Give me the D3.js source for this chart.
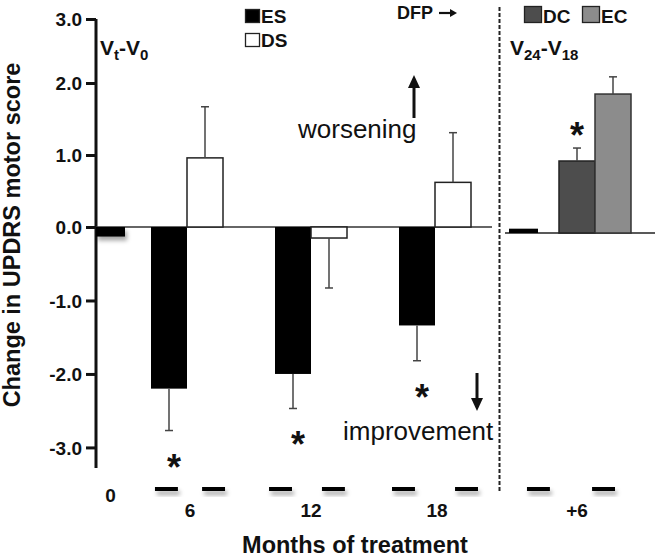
<!DOCTYPE html>
<html>
<head>
<meta charset="utf-8">
<script src="https://cdn.jsdelivr.net/npm/d3@7"></script>
<style>
  html, body { margin: 0; padding: 0; background: #fff; }
  svg { display: block; font-family: "Liberation Sans", Arial, sans-serif; }
</style>
</head>
<body>
<svg id="chart" width="660" height="558"></svg>
<script>
// ---------- data ----------
const categories = ["0", "6", "12", "18"];
const esValues = [-0.13, -2.20, -2.00, -1.34];
const esErrors = [0, 0.57, 0.47, 0.48];
const dsValues = [null, 0.96, -0.15, 0.62];
const dsErrors = [0, 0.71, 0.68, 0.69];
const esSignificant = [false, true, true, true];

const rightCategories = ["V18", "+6"];
const rightBaseValues = [0.06, null];
const dcValues = [null, 1.00];
const dcErrors = [0, 0.18];
const ecValues = [null, 1.93];
const ecErrors = [0, 0.26];
const dcSignificant = [false, true];

const yTicks = [-3, -2, -1, 0, 1, 2, 3];
const xTickLabels = ["0", "6", "12", "18", "+6"];
const dashMonths = [4.45, 6.73, 9.97, 12.53, 15.92, 18.97, 22.45, 25.6];
const dashLength = 1.11;

// ---------- setup ----------
const svg = d3.select("#chart");
const FONT = '"Liberation Sans", Arial, sans-serif';
const axisX = 96;

const y = d3.scaleLinear().domain([-3.28, 0, 2, 3]).range([468, 227, 83, 19]);
const yR = y.copy().range(y.range().map(v => v + 6));

const xCenter = d3.scaleOrdinal().domain(categories).range([125, 187, 311, 435]);
const xRight = d3.scaleOrdinal().domain(rightCategories).range([538, 595]);
const xMonths = d3.scaleLinear().domain([6, 18]).range([187, 435]);
const bw = 36, baseBw = 29;

const defs = svg.append("defs");
const f = defs.append("filter").attr("id", "shadow").attr("x", "-30%").attr("y", "-60%").attr("width", "160%").attr("height", "300%");
f.append("feDropShadow").attr("dx", 2).attr("dy", 4).attr("stdDeviation", 2.2)
  .attr("flood-color", "#000").attr("flood-opacity", 0.35);

// ---------- y axis ----------
const yAxis = d3.axisLeft(y).tickValues(yTicks).tickSize(10).tickPadding(4)
  .tickFormat(d => d.toFixed(1));
const gy = svg.append("g").attr("transform", `translate(${axisX},0)`).call(yAxis);
gy.select(".domain").remove();
gy.selectAll(".tick line").attr("stroke", "#111").attr("stroke-width", 3);
gy.selectAll(".tick text").attr("font-family", FONT).attr("font-size", 19)
  .attr("font-weight", "bold").attr("fill", "#111").attr("dy", "0.35em");
svg.append("line").attr("x1", axisX).attr("x2", axisX)
  .attr("y1", y(3)).attr("y2", y.range()[0])
  .attr("stroke", "#111").attr("stroke-width", 3);

// zero lines
svg.append("line").attr("x1", axisX).attr("x2", 492).attr("y1", y(0)).attr("y2", y(0))
  .attr("stroke", "#333").attr("stroke-width", 1.5);
svg.append("line").attr("x1", 505).attr("x2", 655).attr("y1", yR(0)).attr("y2", yR(0))
  .attr("stroke", "#222").attr("stroke-width", 1.5);

// dashed separator
svg.append("line").attr("x1", 499.5).attr("x2", 499.5).attr("y1", 7).attr("y2", 493)
  .attr("stroke", "#222").attr("stroke-width", 2).attr("stroke-dasharray", "4,2");

// ---------- helpers ----------
function bar(x0, w, v, scale, fill, stroke, filter) {
  const r = svg.append("rect")
    .attr("x", x0).attr("width", w)
    .attr("y", Math.min(scale(v), scale(0)))
    .attr("height", Math.abs(scale(v) - scale(0)))
    .attr("fill", fill);
  if (stroke) r.attr("stroke", stroke).attr("stroke-width", 1.5);
  if (filter) r.attr("filter", filter);
}
function errorBar(cx, v, e, scale) {
  if (!e) return null;
  const end = v >= 0 ? v + e : v - e;
  const edge = scale(v);
  svg.append("line").attr("x1", cx).attr("x2", cx).attr("y1", edge).attr("y2", scale(end))
    .attr("stroke", "#444").attr("stroke-width", 1.5);
  svg.append("line").attr("x1", cx - 4).attr("x2", cx + 4).attr("y1", scale(end)).attr("y2", scale(end))
    .attr("stroke", "#444").attr("stroke-width", 1.5);
  return scale(end);
}
function asterisk(cx, cy) {
  svg.append("text").attr("x", cx).attr("y", cy + 21).attr("text-anchor", "middle")
    .attr("font-family", FONT).attr("font-size", 36).attr("font-weight", "bold")
    .attr("fill", "#111").text("*");
}

// ---------- left panel bars ----------
categories.forEach((c, i) => {
  const cx = xCenter(c);
  if (dsValues[i] === null) {
    bar(cx - baseBw, baseBw, esValues[i], y, "#000", null, "url(#shadow)");
  } else {
    bar(cx - bw, bw, esValues[i], y, "#000");
    bar(cx, bw, dsValues[i], y, "#fff", "#222");
    const esEnd = errorBar(cx - bw / 2, esValues[i], esErrors[i], y);
    errorBar(cx + bw / 2, dsValues[i], dsErrors[i], y);
    if (esSignificant[i]) asterisk(cx - bw / 2 + 5, esEnd + 28);
  }
});

// ---------- right panel bars ----------
rightCategories.forEach((c, i) => {
  const cx = xRight(c);
  if (rightBaseValues[i] !== null) {
    bar(cx - baseBw, baseBw, rightBaseValues[i], yR, "#000", null);
  } else {
    bar(cx - bw, bw, dcValues[i], yR, "#4d4d4d", "#222");
    bar(cx, bw, ecValues[i], yR, "#8c8c8c", "#333");
    const dcEnd = errorBar(cx - bw / 2, dcValues[i], dcErrors[i], yR);
    errorBar(cx + bw / 2, ecValues[i], ecErrors[i], yR);
    if (dcSignificant[i]) asterisk(cx - bw / 2, dcEnd - 21);
  }
});

// ---------- timeline dashes ----------
dashMonths.forEach(m => {
  svg.append("rect").attr("x", xMonths(m)).attr("width", xMonths(m + dashLength) - xMonths(m))
    .attr("y", 487).attr("height", 4).attr("fill", "#000").attr("filter", "url(#shadow)");
});

// ---------- x tick labels ----------
const labelPos = [
  { x: xCenter("0") - baseBw / 2, y: 502 },
  { x: xCenter("6") + 3, y: 517 },
  { x: xCenter("12"), y: 517 },
  { x: xCenter("18") + 2, y: 517 },
  { x: xRight("+6") - bw / 2, y: 517 }
];
xTickLabels.forEach((t, i) => {
  svg.append("text").attr("x", labelPos[i].x).attr("y", labelPos[i].y)
    .attr("text-anchor", "middle").attr("font-family", FONT).attr("font-size", 19)
    .attr("font-weight", "bold").attr("fill", "#111").text(t);
});

// ---------- axis titles ----------
svg.append("text").attr("x", 355).attr("y", 553).attr("text-anchor", "middle")
  .attr("font-family", FONT).attr("font-size", 23.5).attr("font-weight", "bold")
  .attr("fill", "#111").text("Months of treatment");
svg.append("text").attr("transform", "translate(20,235) rotate(-90)").attr("text-anchor", "middle")
  .attr("font-family", FONT).attr("font-size", 23.5).attr("font-weight", "bold")
  .attr("fill", "#111").text("Change in UPDRS motor score");

// ---------- legends ----------
function legendItem(x, yTop, size, fill, label, fs) {
  svg.append("rect").attr("x", x).attr("y", yTop).attr("width", size).attr("height", size - 1)
    .attr("fill", fill).attr("stroke", "#222").attr("stroke-width", 1.3);
  svg.append("text").attr("x", x + size + 1.5).attr("y", yTop + size - 1)
    .attr("font-family", FONT).attr("font-size", fs).attr("font-weight", "bold")
    .attr("fill", "#111").text(label);
}
legendItem(245.5, 9.5, 14, "#000", "ES", 19);
legendItem(245.5, 33.5, 14, "#fff", "DS", 19);
legendItem(524.5, 6.5, 17, "#4d4d4d", "DC", 19);
legendItem(582.5, 6.5, 17, "#8c8c8c", "EC", 19);

svg.append("text").attr("x", 397).attr("y", 19).attr("font-family", FONT)
  .attr("font-size", 18).attr("font-weight", "bold").attr("fill", "#111").text("DFP");
svg.append("line").attr("x1", 439).attr("x2", 451).attr("y1", 13).attr("y2", 13)
  .attr("stroke", "#111").attr("stroke-width", 2.2);
svg.append("path").attr("d", "M457,13 L450,9 L450,17 Z").attr("fill", "#111");

// panel labels
function panelLabel(x, yb, main1, sub1, main2, sub2) {
  const t = svg.append("text").attr("x", x).attr("y", yb).attr("font-family", FONT)
    .attr("font-weight", "bold").attr("font-size", 21).attr("fill", "#111");
  t.append("tspan").text(main1);
  t.append("tspan").attr("font-size", 15).attr("dy", 5).text(sub1);
  t.append("tspan").attr("dy", -5).text(main2);
  t.append("tspan").attr("font-size", 15).attr("dy", 5).text(sub2);
}
panelLabel(100, 55, "V", "t", "-V", "0");
panelLabel(510, 55, "V", "24", "-V", "18");

// ---------- annotations ----------
svg.append("text").attr("x", 298).attr("y", 138).attr("font-family", FONT)
  .attr("font-size", 26).attr("fill", "#111").text("worsening");
svg.append("text").attr("x", 343).attr("y", 440).attr("font-family", FONT)
  .attr("font-size", 26).attr("fill", "#111").text("improvement");

function arrow(x, yFrom, yTip) {
  const dir = yTip < yFrom ? -1 : 1;
  svg.append("line").attr("x1", x).attr("x2", x).attr("y1", yFrom).attr("y2", yTip - dir * 8)
    .attr("stroke", "#111").attr("stroke-width", 3);
  svg.append("path")
    .attr("d", `M${x},${yTip} L${x - 6},${yTip - dir * 13} L${x + 6},${yTip - dir * 13} Z`)
    .attr("fill", "#111");
}
arrow(414, 118, 75);
arrow(477, 373, 411);
</script>
</body>
</html>
